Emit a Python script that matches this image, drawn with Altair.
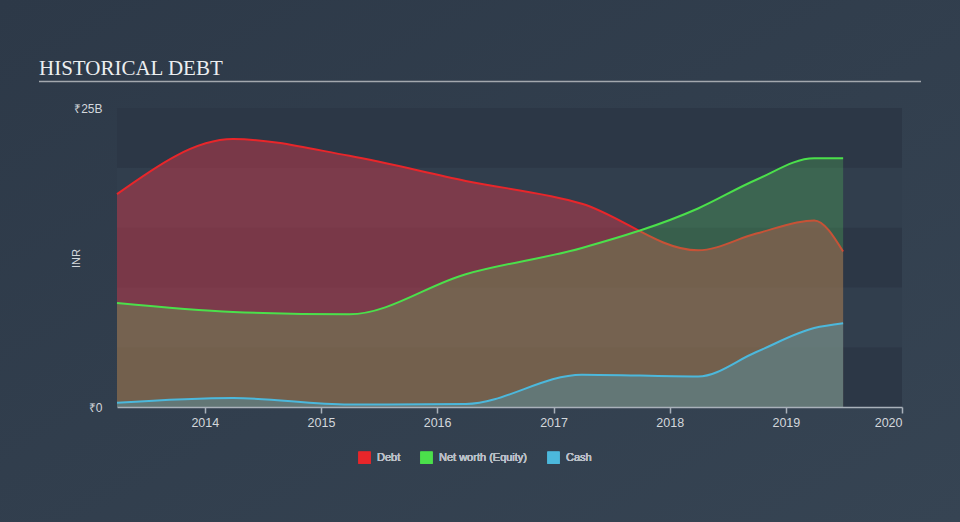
import altair as alt
import pandas as pd

# ---- data ----
dates = ["2013-03-31", "2014-03-31", "2015-03-31", "2016-03-31", "2017-03-31",
         "2018-03-31", "2018-09-30", "2019-03-31", "2019-06-30"]
debt = [17.8, 22.4, 21.0, 18.9, 17.0, 13.1, 14.5, 15.6, 13.0]
net_worth = [8.7, 7.95, 7.75, 11.1, 13.3, 16.6, 19.0, 20.8, 20.8]
cash = [0.35, 0.75, 0.2, 0.25, 2.7, 2.55, 4.6, 6.6, 7.0]

series_names = ["Debt", "Net worth (Equity)", "Cash"]
series_colors = ["#e8262a", "#4be04b", "#4cb8dc"]
year_ticks = [2014, 2015, 2016, 2017, 2018, 2019, 2020]
band_lo = [0, 5, 10, 15, 20]
band_hi = [5, 10, 15, 20, 25]
band_shade = ["dark", "light", "dark", "light", "dark"]

rows = []
for name, vals in zip(series_names, [debt, net_worth, cash]):
    for d, v in zip(dates, vals):
        rows.append({"date": d, "series": name, "value": v})
df = pd.DataFrame(rows)
bands = pd.DataFrame({"lo": band_lo, "hi": band_hi, "shade": band_shade})

W, H = 785, 299
LEFT, TOP = 117, 108

x_scale = alt.Scale(domain=["2013-03-31", "2020-01-01"])
y_scale = alt.Scale(domain=[0, 25], nice=False)
color_scale = alt.Scale(domain=series_names, range=series_colors)
# averaged colours of the hatched fills
fill_colors = {"Debt": ("#d0394a", 0.47), "Net worth (Equity)": ("#5fe362", 0.24),
               "Cash": ("#4a9ab5", 0.4)}

x_enc = alt.X("date:T", scale=x_scale, title=None,
              axis=alt.Axis(values=[alt.DateTime(year=y) for y in year_ticks],
                            format="%Y", grid=False, domainColor="#a9b1ba",
                            domainWidth=1.5, tickColor="#a9b1ba", tickSize=6,
                            tickWidth=1.5, labelColor="#d3d7dc", labelFontSize=12.5,
                            labelPadding=3, labelFont="Liberation Sans", zindex=1))
y_enc = alt.Y("value:Q", scale=y_scale, title="INR",
              axis=alt.Axis(values=[0, 25], grid=False, domain=False, ticks=False,
                            labelExpr="datum.value == 0 ? '₹0' : '₹' + datum.value + 'B'",
                            labelColor="#d3d7dc", labelFontSize=12, labelPadding=15,
                            labelFont="Liberation Sans", zindex=1,
                            titleColor="#d3d7dc", titleFontSize=11, titleFontWeight="normal",
                            titleFont="Liberation Sans", titleX=-41, titleY=150,
                            titleAngle=-90, titleAlign="center", titleBaseline="middle"))

legend = alt.Legend(title=None, orient="none", direction="horizontal",
                    legendX=241, legendY=343, symbolType="square", symbolSize=150,
                    symbolOpacity=1, symbolStrokeWidth=0, labelColor="#b9bfc6",
                    labelFontSize=11, labelFont="Liberation Sans", labelFontWeight="normal",
                    columnPadding=19, labelOffset=6)

background = alt.Chart(alt.Data(values=[{}])).mark_rect(
    fill=alt.Gradient(gradient="linear", x1=0, y1=0, x2=1, y2=1,
                      stops=[alt.GradientStop(color="#2d3948", offset=0),
                             alt.GradientStop(color="#364453", offset=1)])
).encode(x=alt.value(-LEFT), x2=alt.value(960 - LEFT),
         y=alt.value(-TOP), y2=alt.value(522 - TOP))

band_layer = alt.Chart(bands).mark_rect().encode(
    x=alt.value(0), x2=alt.value(W),
    y=alt.Y("lo:Q", scale=y_scale), y2="hi:Q",
    color=alt.Color("shade:N", scale=alt.Scale(domain=["dark", "light"],
                                               range=["#2c3746", "#313e4d"]), legend=None))

base = alt.Chart(df)


def area(name):
    col, op = fill_colors[name]
    return base.transform_filter(alt.datum.series == name).mark_area(
        interpolate="monotone", fill=col, fillOpacity=op).encode(
        x=x_enc, y=y_enc, color=alt.Color("series:N", scale=color_scale, legend=legend))


def line(name):
    return base.transform_filter(alt.datum.series == name).mark_line(
        interpolate="monotone", strokeWidth=2).encode(
        x=x_enc, y=y_enc, color=alt.Color("series:N", scale=color_scale, legend=legend))


title_text = alt.Chart(alt.Data(values=[{}])).mark_text(
    text="HISTORICAL DEBT", font="Liberation Serif", fontSize=21, color="#eceef0",
    align="left", baseline="alphabetic").encode(x=alt.value(-78), y=alt.value(-33))

title_rule = alt.Chart(alt.Data(values=[{}])).mark_rule(
    color="#a3a8ae", strokeWidth=1.5).encode(
    x=alt.value(-78), x2=alt.value(921 - LEFT), y=alt.value(-26.5))

chart = alt.layer(
    background, band_layer,
    area("Debt"), line("Debt"),
    area("Net worth (Equity)"), line("Net worth (Equity)"),
    area("Cash"), line("Cash"),
    title_text, title_rule,
).resolve_scale(color="independent").properties(
    width=W, height=H,
    autosize=alt.AutoSizeParams(type="none"),
    padding={"left": LEFT, "top": TOP, "right": 960 - LEFT - W, "bottom": 522 - TOP - H},
    background="#323f4e",
).configure_view(stroke=None)

chart.save("out.html", embed_options={"renderer": "svg", "actions": False})
